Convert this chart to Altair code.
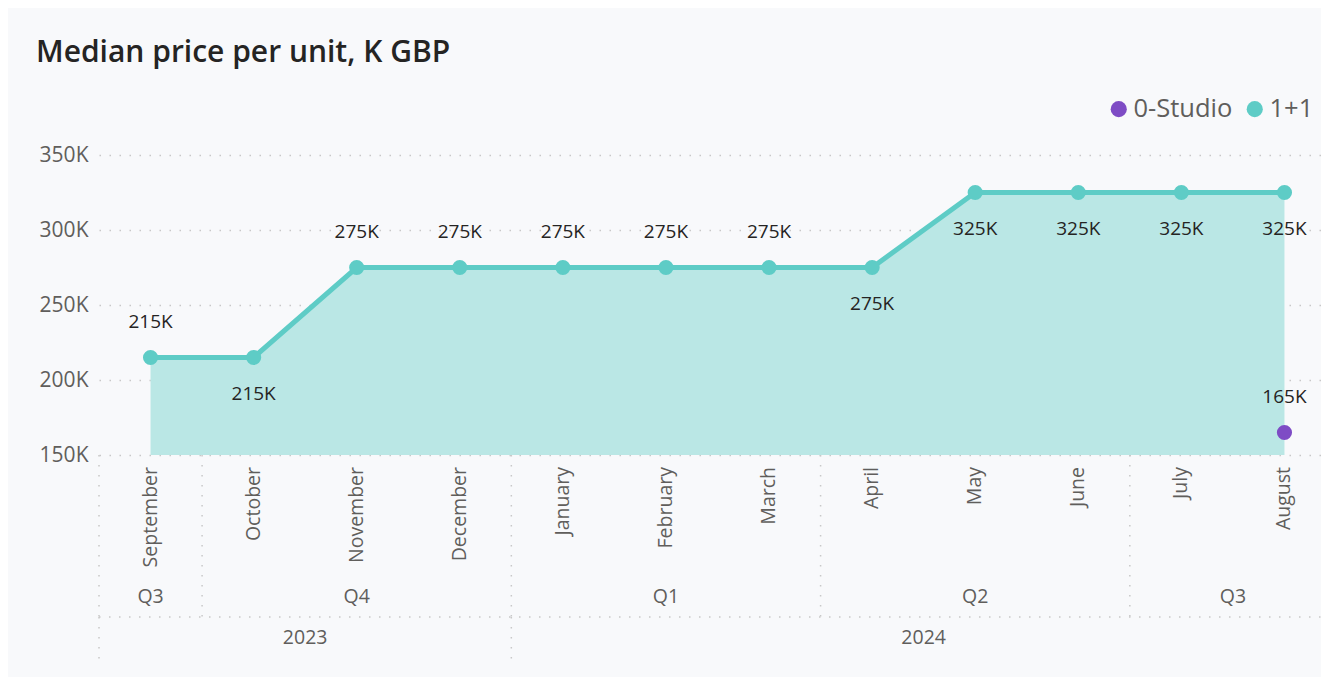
import altair as alt
import pandas as pd

# ---- data ----
months = ["September", "October", "November", "December", "January", "February",
          "March", "April", "May", "June", "July", "August"]
series_11 = [215, 215, 275, 275, 275, 275, 275, 275, 325, 325, 325, 325]
label_pos_11 = ["above", "below", "above", "above", "above", "above", "above",
                "below", "below", "below", "below", "below"]
studio_month = ["August"]
series_studio = [165]
label_pos_studio = ["above"]

quarters = ["Q3", "Q4", "Q1", "Q2", "Q3"]
quarter_start = [0, 1, 4, 7, 10]
quarter_end = [0, 3, 6, 9, 11]
years = ["2023", "2024"]
year_start = [0, 4]
year_end = [3, 11]

y_ticks = [150, 200, 250, 300, 350]

TEAL = "#5ECCC6"
TEAL_FILL = "#BAE7E5"
PURPLE = "#7E4CC5"
GRID = "#C8C8C8"
LABEL_GRAY = "#605E5C"
DARK = "#252423"
FONT = "Open Sans"

rows = []
for i, (m, v, p) in enumerate(zip(months, series_11, label_pos_11)):
    rows.append({"idx": i, "month": m, "value": v, "series": "1+1", "pos": p})
for m, v, p in zip(studio_month, series_studio, label_pos_studio):
    rows.append({"idx": months.index(m), "month": m, "value": v, "series": "0-Studio", "pos": p})
df = pd.DataFrame(rows)

month_df = pd.DataFrame({"idx": list(range(len(months))), "month": months})
q_df = pd.DataFrame({"q": quarters, "start": quarter_start, "end": quarter_end})
y_df = pd.DataFrame({"year": years, "start": year_start, "end": year_end})

W = 1222
H = 300
xscale = alt.Scale(domain=[-0.5, 11.5], range=[0, 1237], nice=False, zero=False)
yscale = alt.Scale(domain=[150, 350], nice=False, zero=False)

x_enc = alt.X("idx:Q", scale=xscale, axis=None)
y_enc = alt.Y("value:Q", scale=yscale,
              axis=alt.Axis(values=y_ticks, labelExpr="datum.value + 'K'", title=None,
                            grid=True, gridColor=GRID, gridDash=[1.5, 8.5], gridWidth=1.5,
                            domain=False, ticks=False, labelPadding=11,
                            labelFontSize=21, labelColor=LABEL_GRAY, labelFont=FONT))

base = alt.Chart(df)

area = base.transform_filter(alt.datum.series == "1+1").transform_calculate(
    base="150"
).mark_area(color=TEAL_FILL, opacity=1).encode(
    x=x_enc, y=y_enc, y2=alt.Y2("base:Q")
)

line = base.transform_filter(alt.datum.series == "1+1").mark_line(
    color=TEAL, strokeWidth=5
).encode(x=x_enc, y=y_enc)

color_enc = alt.Color("series:N",
                      scale=alt.Scale(domain=["0-Studio", "1+1"], range=[PURPLE, TEAL]),
                      legend=alt.Legend(title=None, orient="none", direction="horizontal",
                                        legendX=1007, legendY=-59,
                                        symbolType="circle", symbolSize=260,
                                        symbolStrokeWidth=0, symbolOpacity=1,
                                        labelFontSize=25.5, labelColor=LABEL_GRAY,
                                        labelFont=FONT, labelOffset=2,
                                        columnPadding=9))

points = base.mark_circle(size=230, opacity=1).encode(x=x_enc, y=y_enc, color=color_enc)

lbl = base.transform_calculate(txt="datum.value + 'K'")
labels_above = lbl.transform_filter(alt.datum.pos == "above").mark_text(
    dy=-36, fontSize=19, color=DARK, font=FONT, baseline="middle"
).encode(x=x_enc, y=y_enc, text="txt:N")
labels_below = lbl.transform_filter(alt.datum.pos == "below").mark_text(
    dy=36, fontSize=19, color=DARK, font=FONT, baseline="middle"
).encode(x=x_enc, y=y_enc, text="txt:N")

# ---- hierarchical x axis ----
month_labels = alt.Chart(month_df).mark_text(
    angle=270, align="right", baseline="middle", fontSize=19.5, color=LABEL_GRAY, font=FONT
).encode(x=alt.X("idx:Q", scale=xscale, axis=None), y=alt.value(H + 12), text="month:N")

q_labels = alt.Chart(q_df).transform_calculate(
    c="(datum.start + datum.end) / 2"
).mark_text(baseline="middle", fontSize=19.5, color=LABEL_GRAY, font=FONT).encode(
    x=alt.X("c:Q", scale=xscale, axis=None), y=alt.value(H + 142), text="q:N")

year_labels = alt.Chart(y_df).transform_calculate(
    c="(datum.start + datum.end) / 2"
).mark_text(baseline="middle", fontSize=19.5, color=LABEL_GRAY, font=FONT).encode(
    x=alt.X("c:Q", scale=xscale, axis=None), y=alt.value(H + 183), text="year:N")

q_seps = alt.Chart(q_df).transform_calculate(
    b="datum.start - 0.5"
).mark_rule(color=GRID, strokeDash=[1.5, 8.5], strokeWidth=1.5).encode(
    x=alt.X("b:Q", scale=xscale, axis=None), y=alt.value(H), y2=alt.value(H + 162))

y_seps = alt.Chart(y_df).transform_calculate(
    b="datum.start - 0.5"
).mark_rule(color=GRID, strokeDash=[1.5, 8.5], strokeWidth=1.5).encode(
    x=alt.X("b:Q", scale=xscale, axis=None), y=alt.value(H + 162), y2=alt.value(H + 205))

h_sep = alt.Chart(y_df).transform_aggregate(
    s="min(start)", e="max(end)"
).transform_calculate(
    s0="datum.s - 0.5", e0="datum.e + 0.5"
).mark_rule(color=GRID, strokeDash=[1.5, 8.5], strokeWidth=1.5).encode(
    x=alt.X("s0:Q", scale=xscale, axis=None), x2="e0:Q", y=alt.value(H + 162))

chart = alt.layer(
    area, line, points, labels_above, labels_below,
    q_seps, y_seps, h_sep, month_labels, q_labels, year_labels
).properties(
    width=W, height=H,
    autosize=alt.AutoSizeParams(type="none"),
    padding={"left": 91, "top": 147, "right": 0, "bottom": 222},
    background="#F8F9FB",
    title=alt.TitleParams("Median price per unit, K GBP", anchor="start", frame="group",
                          dx=-63, offset=28, fontSize=30, fontWeight=600,
                          color=DARK, font=FONT),
).configure_view(stroke=None)

chart.save("out.html", embed_options={"renderer": "svg", "actions": False})
